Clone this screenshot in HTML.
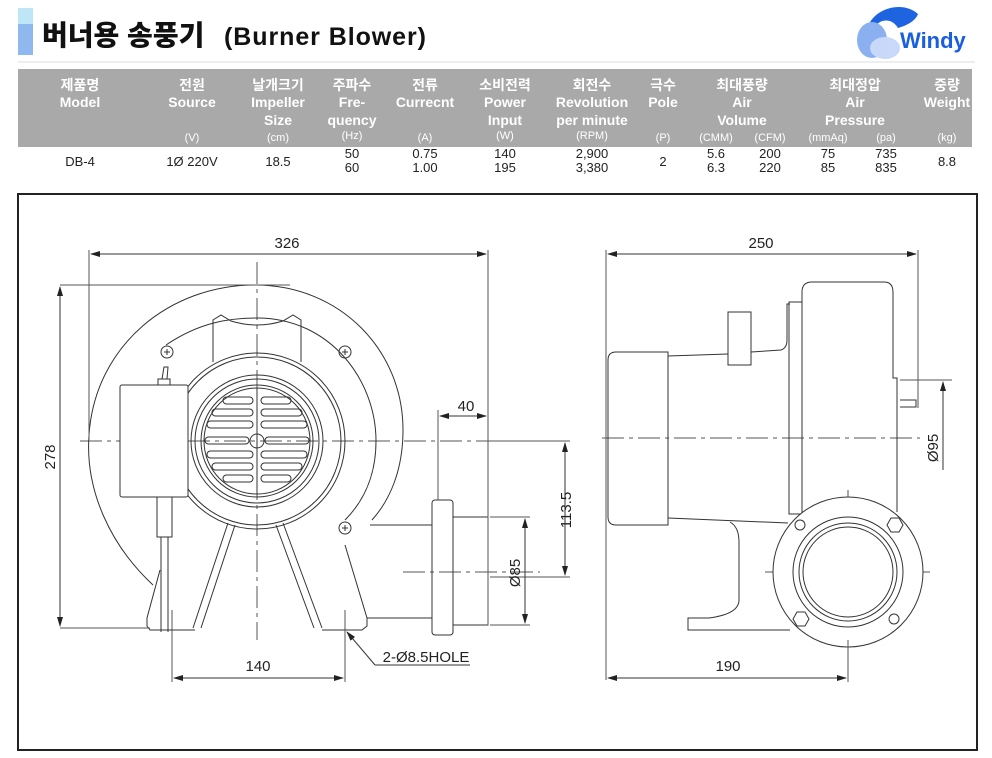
<!DOCTYPE html>
<html><head><meta charset="utf-8"><style>
body{margin:0;background:#fff;width:992px;height:758px;overflow:hidden;font-family:"Liberation Sans","Noto Sans CJK KR",sans-serif}
svg{position:absolute;left:0;top:0}
</style></head><body>
<svg width="992" height="758" viewBox="0 0 992 758" xmlns="http://www.w3.org/2000/svg" font-family="Liberation Sans, Noto Sans CJK KR, sans-serif">
<!-- title -->
<rect x="18" y="8" width="15" height="16" fill="#bfe6f7"/>
<rect x="18" y="24" width="15" height="31" fill="#8fb8ef"/>
<text x="42" y="45" font-size="28" font-weight="900" fill="#111">버너용 송풍기</text>
<text x="224" y="45" font-size="25" font-weight="bold" fill="#111" textLength="202">(Burner Blower)</text>
<line x1="18" y1="62" x2="975" y2="62" stroke="#ddd" stroke-width="1"/>
<!-- logo -->
<path d="M870 22 C880 6 905 2 918 14 C915 22 905 26 898 28 C892 18 880 18 874 28 Z" fill="#1e63e0"/>
<ellipse cx="872" cy="40" rx="15" ry="18" fill="#8ab0f0"/>
<ellipse cx="885" cy="48" rx="15" ry="11" fill="#c8d8f8"/>
<text x="900" y="48" font-size="22" font-weight="bold" fill="#1a5fe0" font-family="Liberation Sans, sans-serif">Windy</text>
<!-- table -->
<rect x="18" y="69" width="954" height="78" fill="#a9a9a9"/>
<g fill="#fff" font-weight="bold" font-size="14" text-anchor="middle">
<text x="80" y="90">제품명</text><text x="80" y="107">Model</text>
<text x="192" y="90">전원</text><text x="192" y="107">Source</text><text x="192" y="141" font-size="11" font-weight="normal">(V)</text>
<text x="278" y="90">날개크기</text><text x="278" y="107">Impeller</text><text x="278" y="125">Size</text><text x="278" y="141" font-size="11" font-weight="normal">(cm)</text>
<text x="352" y="90">주파수</text><text x="352" y="107">Fre-</text><text x="352" y="125">quency</text><text x="352" y="139" font-size="11" font-weight="normal">(Hz)</text>
<text x="425" y="90">전류</text><text x="425" y="107">Currecnt</text><text x="425" y="141" font-size="11" font-weight="normal">(A)</text>
<text x="505" y="90">소비전력</text><text x="505" y="107">Power</text><text x="505" y="125">Input</text><text x="505" y="139" font-size="11" font-weight="normal">(W)</text>
<text x="592" y="90">회전수</text><text x="592" y="107">Revolution</text><text x="592" y="125">per minute</text><text x="592" y="139" font-size="11" font-weight="normal">(RPM)</text>
<text x="663" y="90">극수</text><text x="663" y="107">Pole</text><text x="663" y="141" font-size="11" font-weight="normal">(P)</text>
<text x="742" y="90">최대풍량</text><text x="742" y="107">Air</text><text x="742" y="125">Volume</text><text x="716" y="141" font-size="11" font-weight="normal">(CMM)</text><text x="770" y="141" font-size="11" font-weight="normal">(CFM)</text>
<text x="855" y="90">최대정압</text><text x="855" y="107">Air</text><text x="855" y="125">Pressure</text><text x="828" y="141" font-size="11" font-weight="normal">(mmAq)</text><text x="886" y="141" font-size="11" font-weight="normal">(pa)</text>
<text x="947" y="90">중량</text><text x="947" y="107">Weight</text><text x="947" y="141" font-size="11" font-weight="normal">(kg)</text>
</g>
<g fill="#222" font-size="13" text-anchor="middle">
<text x="80" y="166">DB-4</text><text x="192" y="166">1Ø 220V</text><text x="278" y="166">18.5</text>
<text x="352" y="158">50</text><text x="352" y="172">60</text>
<text x="425" y="158">0.75</text><text x="425" y="172">1.00</text>
<text x="505" y="158">140</text><text x="505" y="172">195</text>
<text x="592" y="158">2,900</text><text x="592" y="172">3,380</text>
<text x="663" y="166">2</text>
<text x="716" y="158">5.6</text><text x="716" y="172">6.3</text>
<text x="770" y="158">200</text><text x="770" y="172">220</text>
<text x="828" y="158">75</text><text x="828" y="172">85</text>
<text x="886" y="158">735</text><text x="886" y="172">835</text>
<text x="947" y="166">8.8</text>
</g>
<!-- frame -->
<rect x="18" y="194" width="959" height="556" fill="none" stroke="#222" stroke-width="2"/>
<defs><marker id="a" markerWidth="10" markerHeight="6" refX="9" refY="3" orient="auto-start-reverse"><path d="M0 0L10 3L0 6Z" fill="#222"/></marker></defs>
<g fill="none" stroke="#333" stroke-width="1">
<g stroke-dasharray="22 5 4 5" stroke="#555">
<line x1="80" y1="441" x2="500" y2="441"/><line x1="257" y1="262" x2="257" y2="640"/>
<line x1="403" y1="572" x2="540" y2="572"/>
<line x1="602" y1="438" x2="920" y2="438"/>
<line x1="848" y1="490" x2="848" y2="650"/><line x1="765" y1="572" x2="930" y2="572"/>
<line x1="172" y1="610" x2="172" y2="650"/><line x1="345" y1="610" x2="345" y2="650"/>
</g>
<path d="M153 585 C110 545 85 490 89 435 C95 345 170 285 255 285 C340 285 403 350 403 430 C403 470 390 500 372 520"/>
<path d="M166 345 C200 322 230 318 257 318 C330 318 376 380 376 441 C376 480 360 505 345 520"/>
<circle cx="257" cy="441" r="88"/><circle cx="257" cy="441" r="84"/>
<circle cx="257" cy="441" r="66"/><circle cx="257" cy="441" r="62"/>
<circle cx="257" cy="441" r="56"/><circle cx="257" cy="441" r="53"/>
<circle cx="257" cy="441" r="7"/>
<g stroke-width="1">
<rect x="223" y="397" width="30" height="7" rx="3.5"/><rect x="261" y="397" width="30" height="7" rx="3.5"/>
<rect x="212" y="409" width="41" height="7" rx="3.5"/><rect x="261" y="409" width="41" height="7" rx="3.5"/>
<rect x="207" y="421" width="46" height="7" rx="3.5"/><rect x="261" y="421" width="46" height="7" rx="3.5"/>
<rect x="205" y="437" width="44" height="7" rx="3.5"/><rect x="265" y="437" width="44" height="7" rx="3.5"/>
<rect x="207" y="451" width="46" height="7" rx="3.5"/><rect x="261" y="451" width="46" height="7" rx="3.5"/>
<rect x="212" y="463" width="41" height="7" rx="3.5"/><rect x="261" y="463" width="41" height="7" rx="3.5"/>
<rect x="223" y="475" width="30" height="7" rx="3.5"/><rect x="261" y="475" width="30" height="7" rx="3.5"/>
<line x1="257" y1="388" x2="257" y2="494"/>
</g>
<circle cx="167" cy="352" r="6"/><circle cx="345" cy="352" r="6"/><circle cx="345" cy="528" r="6"/>
<path d="M164 352h6M167 349v6M342 352h6M345 349v6M342 528h6M345 525v6"/>
<rect x="120" y="385" width="68" height="112" rx="2" fill="#fff"/>
<path d="M158 385v-6h12v6M162 379l2-12h4l-1 12"/>
<path d="M157 497v40h15v-40M161 537v95M168 537v95"/>
<path d="M213 362v-42l8-5 10 6q26 8 52 0l10-6 8 5v42"/>
<path d="M228 523L193 628M235 525L201 628M283 523L322 628M276 525L314 628"/>
<path d="M160 570L147 618v8l3 4h45M322 630h40l5-4v-8L345 545"/>
<path d="M370 525h62M367 618h65"/>
<rect x="432" y="500" width="21" height="135" rx="3"/>
<path d="M453 517h35v108h-35"/>
<path d="M89 250v190M488 250v375M60 285h230M60 628h90M438 500v-90M172 630v52M345 630v52" stroke="#555"/>
<line x1="91" y1="254" x2="486" y2="254" marker-start="url(#a)" marker-end="url(#a)"/>
<line x1="60" y1="287" x2="60" y2="626" marker-start="url(#a)" marker-end="url(#a)"/>
<line x1="440" y1="416" x2="486" y2="416" marker-start="url(#a)" marker-end="url(#a)"/>
<path d="M490 441h80M490 577h80M490 517h40M490 625h40" stroke="#555"/>
<line x1="565" y1="443" x2="565" y2="575" marker-start="url(#a)" marker-end="url(#a)"/>
<line x1="525" y1="519" x2="525" y2="623" marker-start="url(#a)" marker-end="url(#a)"/>
<line x1="174" y1="678" x2="343" y2="678" marker-start="url(#a)" marker-end="url(#a)"/>
<path d="M375 665h95"/><line x1="375" y1="665" x2="347" y2="632" marker-end="url(#a)"/>
<path d="M668 352h-52q-8 0-8 8v157q0 8 8 8h52z"/>
<path d="M668 356l60-2M751 352l30-2q6-2 6-10v-36h3M668 518l120 5"/>
<rect x="728" y="312" width="23" height="53"/>
<rect x="789" y="302" width="13" height="212"/>
<path d="M802 512V292q0-10 10-10h72q9 0 9 10v86h4v134"/>
<path d="M893 378h4M900 400h16v7h-16"/>
<path d="M730 522q9 5 9 20v58q0 14-30 18h-21v12h102"/>
<circle cx="848" cy="572" r="75" fill="#fff"/>
<circle cx="848" cy="572" r="55"/><circle cx="848" cy="572" r="49"/><circle cx="848" cy="572" r="45"/>
<circle cx="800" cy="525" r="5"/><circle cx="894" cy="619" r="5"/>
<polygon points="891,518 899,518 903,525 899,532 891,532 887,525"/>
<polygon points="797,612 805,612 809,619 805,626 797,626 793,619"/>
<path d="M606 250v430M918 250v158M900 380h52M848 640v42" stroke="#555"/>
<line x1="608" y1="254" x2="916" y2="254" marker-start="url(#a)" marker-end="url(#a)"/>
<line x1="943" y1="470" x2="943" y2="382" marker-end="url(#a)"/>
<line x1="608" y1="678" x2="846" y2="678" marker-start="url(#a)" marker-end="url(#a)"/>
</g>
<g font-size="15" fill="#222" text-anchor="middle">
<text x="287" y="248">326</text>
<text x="761" y="248">250</text>
<text x="466" y="411">40</text>
<text x="258" y="671">140</text>
<text x="728" y="671">190</text>
<text x="426" y="662">2-Ø8.5HOLE</text>
<text transform="translate(55,457) rotate(-90)">278</text>
<text transform="translate(571,510) rotate(-90)">113.5</text>
<text transform="translate(520,573) rotate(-90)">Ø85</text>
<text transform="translate(938,448) rotate(-90)">Ø95</text>
</g>
</svg>
</body></html>
